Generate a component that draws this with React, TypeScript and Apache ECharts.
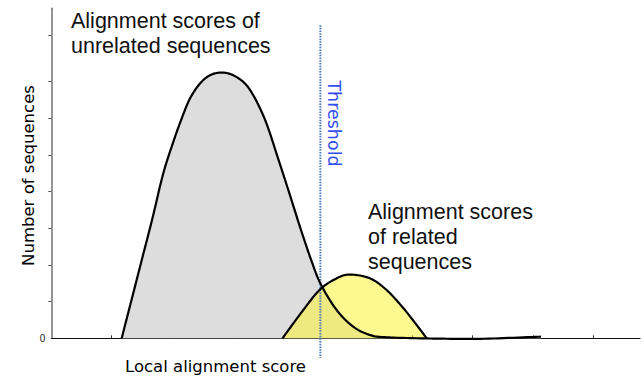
import { useEffect, useRef } from "react";
import * as echarts from "echarts";

// Local alignment score (x) and number of sequences (y)
const unrelatedScores = [1.169, 1.341, 1.507, 1.681, 1.86, 2.027, 2.166, 2.304, 2.47, 2.636, 2.831, 3.023, 3.218, 3.355, 3.495, 3.605, 3.766, 3.949, 4.131, 4.306, 4.475, 4.741, 5.017, 5.294, 5.571, 6.291, 7.121, 8.135];
const unrelatedCounts = [0, 1.098, 2.161, 3.278, 4.496, 5.357, 5.995, 6.54, 6.948, 7.174, 7.248, 7.174, 6.948, 6.629, 6.174, 5.722, 4.913, 3.986, 3.041, 2.188, 1.48, 0.771, 0.316, 0.09, 0.027, -0.005, -0.014, 0.045];
const relatedScores = [3.841, 4.186, 4.463, 4.741, 4.962, 5.294, 5.571, 5.847, 6.07, 6.236];
const relatedCounts = [0, 0.771, 1.33, 1.635, 1.738, 1.635, 1.316, 0.825, 0.362, 0];
const thresholdScore = 4.47;
const thresholdSpan = [8.54, -0.54];
const xTickValues = [1, 2, 3, 4, 5, 6, 7, 8, 9];
const yTickValues = [1, 2, 3, 4, 5, 6, 7, 8.27];
const yLabelValues = [0];

const unrelatedData = unrelatedScores.map((x, i) => [x, unrelatedCounts[i]]);
const relatedData = relatedScores.map((x, i) => [x, relatedCounts[i]]);
const thresholdData = thresholdSpan.map((y) => [thresholdScore, y]);

const SANS = "'Liberation Sans', Arial, sans-serif";
const LUCIDA = "'DejaVu Sans', sans-serif";

type Pt = number[];

// Catmull-Rom spline through already-projected pixel points, sampled for drawing
function splinePixels(pts: Pt[], steps = 14): Pt[] {
  const n = pts.length;
  const out: Pt[] = [pts[0]];
  for (let i = 0; i < n - 1; i++) {
    const p0 = pts[Math.max(i - 1, 0)];
    const p1 = pts[i];
    const p2 = pts[i + 1];
    const p3 = pts[Math.min(i + 2, n - 1)];
    const c1 = [p1[0] + (p2[0] - p0[0]) / 6, p1[1] + (p2[1] - p0[1]) / 6];
    const c2 = [p2[0] - (p3[0] - p1[0]) / 6, p2[1] - (p3[1] - p1[1]) / 6];
    for (let s = 1; s <= steps; s++) {
      const t = s / steps;
      const u = 1 - t;
      const a = u * u * u, b = 3 * u * u * t, c = 3 * u * t * t, d = t * t * t;
      out.push([
        a * p1[0] + b * c1[0] + c * c2[0] + d * p2[0],
        a * p1[1] + b * c1[1] + c * c2[1] + d * p2[1],
      ]);
    }
  }
  return out;
}

export default function App() {
  const ref = useRef<HTMLDivElement>(null);
  useEffect(() => {
    if (!ref.current) return;
    const chart = echarts.init(ref.current, null, { renderer: "svg" });

    const curves = (api: any) => {
      const gray = splinePixels(unrelatedData.map((d) => api.coord(d)));
      const yellow = splinePixels(relatedData.map((d) => api.coord(d)));
      const base = api.coord([0, 0])[1];
      return { gray, yellow, base };
    };

    chart.setOption({
      animation: false,
      backgroundColor: "#ffffff",
      grid: { left: 51.3, right: 4, top: 8.3, bottom: 39.7, containLabel: false },
      xAxis: {
        type: "value",
        min: 0,
        max: 9.78,
        axisLine: { show: true, onZero: true, lineStyle: { color: "#111", width: 1.2 } },
        axisTick: { show: true, inside: true, length: 3, customValues: xTickValues, lineStyle: { color: "#333" } },
        axisLabel: { show: false },
        splitLine: { show: false },
      },
      yAxis: {
        type: "value",
        min: 0,
        max: 9,
        axisLine: { show: true, lineStyle: { color: "#7a7a7a", width: 1.6 } },
        axisTick: { show: true, inside: false, length: 3, customValues: yTickValues, lineStyle: { color: "#555" } },
        axisLabel: {
          show: true,
          customValues: yLabelValues,
          formatter: (v: number) => String(v),
          fontSize: 10,
          color: "#222",
          margin: 6,
          fontFamily: SANS,
        },
        splitLine: { show: false },
      },
      series: [
        {
          type: "custom",
          name: "fills",
          data: [[0, 0]],
          silent: true,
          clip: false,
          z: 1,
          renderItem: (params: any, api: any) => {
            const { gray, yellow, base } = curves(api);
            const grayPoly = [...gray, [gray[gray.length - 1][0], base], [gray[0][0], base]];
            const yellowPoly = [...yellow, [yellow[yellow.length - 1][0], base], [yellow[0][0], base]];
            return {
              type: "group",
              children: [
                { type: "polygon", shape: { points: grayPoly }, style: { fill: "#dddddd", stroke: "none" } },
                { type: "polygon", shape: { points: yellowPoly }, style: { fill: "rgba(251, 243, 55, 0.56)", stroke: "none" } },
              ],
            };
          },
        },
        {
          type: "line",
          data: thresholdData,
          symbol: "none",
          clip: false,
          lineStyle: { color: "#4a78b8", width: 2, type: [1.5, 1.2] },
          z: 2,
          silent: true,
        },
        {
          type: "custom",
          name: "curves",
          data: [[0, 0]],
          silent: true,
          clip: false,
          z: 3,
          renderItem: (params: any, api: any) => {
            const { gray, yellow } = curves(api);
            return {
              type: "group",
              children: [
                { type: "polyline", shape: { points: yellow }, style: { stroke: "#000", lineWidth: 2.2, fill: "none", lineJoin: "round" } },
                { type: "polyline", shape: { points: gray }, style: { stroke: "#000", lineWidth: 2.2, fill: "none", lineJoin: "round" } },
              ],
            };
          },
        },
      ],
      graphic: [
        {
          type: "text",
          left: 71,
          top: 8,
          style: {
            text: "Alignment scores of\nunrelated sequences",
            font: `21.5px ${SANS}`,
            lineHeight: 25,
            fill: "#111",
          },
        },
        {
          type: "text",
          left: 368,
          top: 199,
          style: {
            text: "Alignment scores\nof related\nsequences",
            font: `21.5px ${SANS}`,
            lineHeight: 25,
            fill: "#111",
          },
        },
        {
          type: "text",
          x: 333.5,
          y: 123.5,
          rotation: -Math.PI / 2,
          style: {
            text: "Threshold",
            font: `17.5px ${LUCIDA}`,
            fill: "#3350ee",
            align: "center",
            verticalAlign: "middle",
          },
        },
        {
          type: "text",
          x: 28,
          y: 175.5,
          rotation: Math.PI / 2,
          style: {
            text: "Number of sequences",
            font: `16.5px ${LUCIDA}`,
            fill: "#000",
            align: "center",
            verticalAlign: "middle",
          },
        },
        {
          type: "text",
          x: 215.5,
          y: 366,
          style: {
            text: "Local alignment score",
            font: `16.5px ${LUCIDA}`,
            fill: "#000",
            align: "center",
            verticalAlign: "middle",
          },
        },
      ],
    });
    return () => chart.dispose();
  }, []);
  return (
    <div
      ref={ref}
      style={{ position: "fixed", left: 0, top: 0, width: 644, height: 378, background: "#fff" }}
    />
  );
}
